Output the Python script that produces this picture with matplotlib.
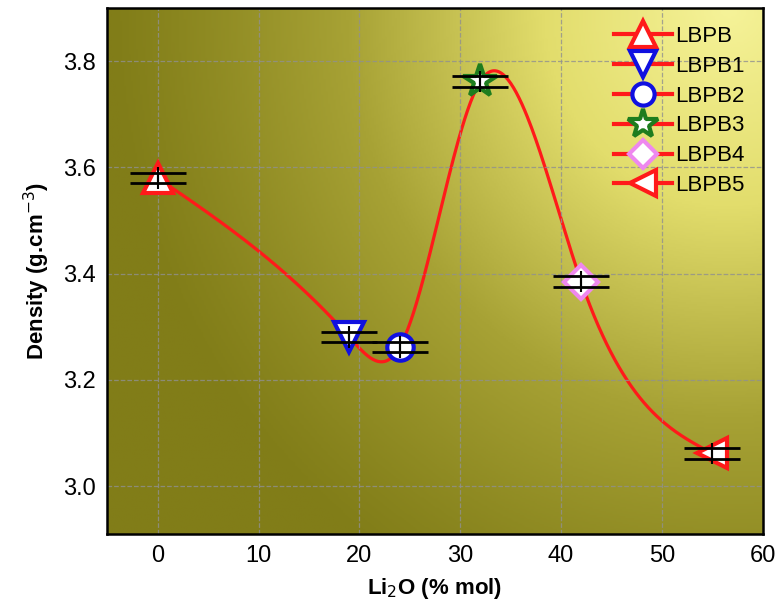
import numpy as np
import matplotlib.pyplot as plt
from matplotlib.colors import LinearSegmentedColormap
from matplotlib.lines import Line2D

plt.rcParams['font.family'] = ['Liberation Sans', 'DejaVu Sans']

# data
samples = ['LBPB', 'LBPB1', 'LBPB2', 'LBPB3', 'LBPB4', 'LBPB5']
li2o = [0, 19, 24, 32, 42, 55]
density = [3.58, 3.281, 3.262, 3.762, 3.385, 3.062]
err_cap = [0.01, 0.01, 0.01, 0.01, 0.01, 0.01]
err_bar = [0.02, 0.02, 0.02, 0.02, 0.02, 0.02]

markers = ['^', 'v', 'o', '*', 'D', '<']
edge_colors = ['#ff1a1a', '#1010e0', '#1010e0', '#1e7d1e', '#ee88ee', '#ff1a1a']
msizes = [22, 22, 19, 25, 17, 22]


def natural_spline(x, y, xs):
  x = np.asarray(x, float)
  y = np.asarray(y, float)
  n = len(x)
  h = np.diff(x)
  A = np.zeros((n, n))
  b = np.zeros(n)
  A[0, 0] = 1
  A[-1, -1] = 1
  for i in range(1, n - 1):
    A[i, i - 1] = h[i - 1]
    A[i, i] = 2 * (h[i - 1] + h[i])
    A[i, i + 1] = h[i]
    b[i] = 6 * ((y[i + 1] - y[i]) / h[i] - (y[i] - y[i - 1]) / h[i - 1])
  M = np.linalg.solve(A, b)
  idx = np.clip(np.searchsorted(x, xs) - 1, 0, n - 2)
  x0, x1 = x[idx], x[idx + 1]
  hh = x1 - x0
  a = (x1 - xs) / hh
  c = (xs - x0) / hh
  return (a * y[idx] + c * y[idx + 1]
          + ((a**3 - a) * M[idx] + (c**3 - c) * M[idx + 1]) * hh**2 / 6)


fig = plt.figure(figsize=(7.83, 6.16), dpi=100)
ax = fig.add_axes([0.137, 0.133, 0.837, 0.854])

# gradient background: dark olive, bright towards the top right
gx, gy = np.meshgrid(np.linspace(0, 1, 300), np.linspace(0, 1, 300))
d = np.sqrt(((gx - 0.95) * 1.0)**2 + ((gy - 1.0) * 0.75)**2)
t = np.clip(1 - d / 0.95, 0, 1) ** 1.15
cmap = LinearSegmentedColormap.from_list('bg', ['#817d18', '#a7a235', '#e2dd6c', '#f6f399'])
ax.imshow(t, cmap=cmap, origin='lower', extent=[0, 1, 0, 1],
          transform=ax.transAxes, aspect='auto', zorder=0, vmin=0, vmax=1)

xs = np.linspace(li2o[0], li2o[-1], 400)
ax.plot(xs, natural_spline(li2o, density, xs), color='#ff1a1a', lw=2.3, zorder=2)

for i in range(len(samples)):
  ax.errorbar(li2o[i], density[i], yerr=err_bar[i], fmt='none', ecolor='black',
              elinewidth=1.5, capsize=0, zorder=4)
  ax.plot(li2o[i], density[i], marker=markers[i], ms=msizes[i], mfc='white',
          mec=edge_colors[i], mew=3, ls='none', zorder=3)
  ax.errorbar(li2o[i], density[i], yerr=err_cap[i], fmt='none', ecolor='black',
              elinewidth=1.5, capsize=20, capthick=2, zorder=4)

handles = [Line2D([], [], color='#ff1a1a', lw=3, marker=markers[i], ms=msizes[i] - 3,
                  mfc='white', mec=edge_colors[i], mew=3) for i in range(len(samples))]
ax.legend(handles, samples, loc='upper right', frameon=False, fontsize=16,
          handlelength=2.6, handletextpad=0.15, labelspacing=0.4,
          borderaxespad=0.4, bbox_to_anchor=(1.0, 1.0))

ax.set_xlim(-5, 60)
ax.set_ylim(2.91, 3.90)
ax.set_xticks([0, 10, 20, 30, 40, 50, 60])
ax.set_yticks([3.0, 3.2, 3.4, 3.6, 3.8])
ax.grid(True, color='#909090', ls='--', lw=0.9, alpha=0.8)
ax.set_axisbelow(False)
ax.tick_params(length=0, labelsize=17, pad=8)
for s in ax.spines.values():
  s.set_linewidth(1.8)
  s.set_zorder(6)

ax.set_xlabel('Li$_2$O (% mol)', fontsize=16, fontweight='bold', labelpad=6)
ax.set_ylabel('Density (g.cm$^{-3}$)', fontsize=16, fontweight='bold', labelpad=8)

fig.savefig('out.png', dpi=100)
